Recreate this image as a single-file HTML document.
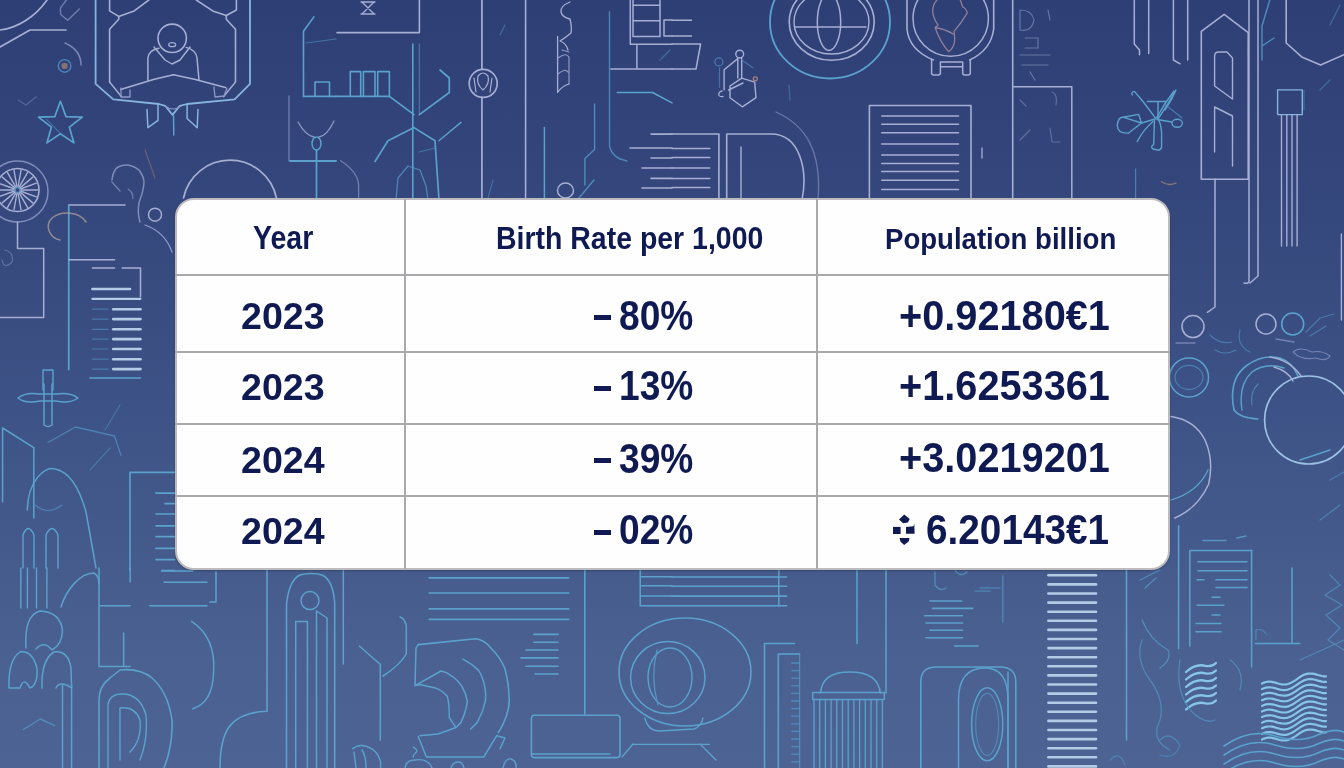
<!DOCTYPE html>
<html><head><meta charset="utf-8">
<style>
html,body{margin:0;padding:0;}
body{width:1344px;height:768px;overflow:hidden;position:relative;
background:linear-gradient(180deg,#2e3f76 0%,#33457a 21%,#3d5286 53%,#4a6090 84%,#4c6394 100%);
font-family:"Liberation Sans",sans-serif;-webkit-font-smoothing:antialiased;}
#bg{position:absolute;left:0;top:0;width:1344px;height:768px;filter:blur(0.4px);}
#tbl{position:absolute;left:175px;top:198px;width:991px;height:368px;border:2px solid #bcbcbe;border-radius:19px;background:#fefefe;box-shadow:0 1px 2px rgba(0,0,0,0.25);}
.hl{position:absolute;left:175px;width:995px;height:2px;background:#a9a9ab;}
.vl{position:absolute;top:199px;height:370px;width:2px;background:#a9a9ab;}
.t{position:absolute;white-space:nowrap;color:#101a52;font-weight:bold;line-height:1;transform-origin:0 0;}
.a{left:240.5px;font-size:37.6px;transform:scaleX(1.0001);}
.b{left:619.2px;font-size:41.9px;transform:scaleX(0.887);}
.m{position:absolute;left:594px;width:17px;height:5px;background:#101a52;}
.c{left:899.1px;font-size:41.9px;transform:scaleX(0.948);}
</style></head><body>
<svg id="bg" width="1344" height="768" viewBox="0 0 1344 768" fill="none" stroke-linecap="round" stroke-linejoin="round">
<path d="M0,30 C18,28 36,16 47,0" stroke="#a6afd3" stroke-width="1.7"/>
<path d="M0,47 L30,30 L66,30" stroke="#a6afd3" stroke-width="1.7"/>
<path d="M66.4,0 L60.5,7.8 L60.5,14.3 L67.7,20.2 L79.4,9.1" stroke="#8d99c6" stroke-width="1.4" opacity="0.7"/>
<ellipse cx="64.6" cy="65.9" rx="6.3" ry="6.3" stroke="#5296c4" stroke-width="1.4" opacity="0.8"/>
<circle cx="64.6" cy="65.9" r="3.2" fill="#9a7a70" opacity="0.8"/>
<path d="M65,43 Q81,50 81,65" stroke="#8d99c6" stroke-width="1.5" opacity="0.8"/>
<path d="M18,100 L26,105 L36,97" stroke="#8d99c6" stroke-width="1.4" opacity="0.4"/>
<path d="M60.4,101.3 L66.0,116.6 L82.3,117.2 L69.4,127.2 L73.9,142.9 L60.4,133.8 L46.9,142.9 L51.4,127.2 L38.5,117.2 L54.8,116.6 Z" stroke="#5aa2cc" stroke-width="1.7"/>
<path d="M46.4,119.3 L63.4,136.3" stroke="#5296c4" stroke-width="1.2" opacity="0.6"/>
<path d="M95.6,0 L95.6,83.9 L113.3,99.4 L158.9,104 L165.2,105.8 L172.5,114.9 L179.8,105.8 L187.1,104 L234.6,99.4 L250,83.9 L250,0" stroke="#86b4de" stroke-width="1.8"/>
<path d="M109.6,82 L109.6,29.2 L118.7,19.2 L118.7,16.4 L109.6,10.9 L109.6,0" stroke="#a6afd3" stroke-width="1.6"/>
<path d="M118.7,16.4 L134.2,10.9 L148.8,0" stroke="#a6afd3" stroke-width="1.6"/>
<path d="M235.5,82 L235.5,29.2 L226.3,19.2 L226.3,15.5 L236.4,10 L236.4,0" stroke="#a6afd3" stroke-width="1.6"/>
<path d="M226.3,15.5 L212.7,10.9 L196.3,0" stroke="#a6afd3" stroke-width="1.6"/>
<path d="M109.6,82 L121.5,96.7" stroke="#a6afd3" stroke-width="1.4"/>
<path d="M235.5,82 L223.5,96.7" stroke="#a6afd3" stroke-width="1.4"/>
<ellipse cx="172.2" cy="38.3" rx="14.2" ry="14.2" stroke="#a6afd3" stroke-width="1.6"/>
<ellipse cx="172.2" cy="44.7" rx="3.5" ry="2" stroke="#a6afd3" stroke-width="1.2"/>
<path d="M158.9,48.3 Q149,50 147.9,58 L147.9,80.2" stroke="#a6afd3" stroke-width="1.5"/>
<path d="M186.2,47.4 Q196,50 197,58 L199,80.2" stroke="#a6afd3" stroke-width="1.5"/>
<path d="M154,47 L165,60 L172,64 L180,60 L190,47" stroke="#a6afd3" stroke-width="1.4"/>
<path d="M120.6,89.4 L154.3,79.3 L173.5,74.8 L194.4,79.3 L225.4,87.5" stroke="#a6afd3" stroke-width="1.6"/>
<path d="M121,88 L121,97 L130,97 L130,90" stroke="#8d99c6" stroke-width="1.3"/>
<path d="M214,87 L215,97 L224,96 L227,88" stroke="#8d99c6" stroke-width="1.3"/>
<path d="M147,109.4 L147.9,127.7 L158,120.4 L158,104.9" stroke="#86b4de" stroke-width="1.5"/>
<path d="M198,109.4 L197.2,127.7 L187.1,118.5 L187.1,104.9" stroke="#86b4de" stroke-width="1.5"/>
<path d="M173.5,115 L173.8,135" stroke="#5aa2cc" stroke-width="1.5"/>
<path d="M165,106 Q173,112 181,106" stroke="#8d99c6" stroke-width="1.2"/>
<path d="M303.5,96.4 L303.5,31.3 L313.9,16.9" stroke="#5aa2cc" stroke-width="1.6"/>
<path d="M306,43 L336,39" stroke="#5296c4" stroke-width="1.2" opacity="0.6"/>
<path d="M303.5,96.4 L336,96.4" stroke="#5aa2cc" stroke-width="1.6"/>
<path d="M315,96.4 L315,82 L329.5,82 L329.5,96.4" stroke="#5aa2cc" stroke-width="1.6"/>
<path d="M289,96 L289,161" stroke="#8d99c6" stroke-width="1.3" opacity="0.7"/>
<path d="M290,161 L336,161" stroke="#5aa2cc" stroke-width="1.8"/>
<ellipse cx="316.5" cy="143.5" rx="4.5" ry="6.5" stroke="#5aa2cc" stroke-width="1.5"/>
<path d="M316.5,150 L316.5,198" stroke="#5aa2cc" stroke-width="1.7"/>
<path d="M298,122 Q306,136 314,137 M319,137 Q327,136 334,121" stroke="#8d99c6" stroke-width="1.3"/>
<path d="M183.5,198 A47.5,47.5 0 0 1 276.5,198" stroke="#a6afd3" stroke-width="1.7"/>
<path d="M340.7,160.7 Q358,172 358.6,185 V200" stroke="#8d99c6" stroke-width="1.3" opacity="0.7"/>
<ellipse cx="17.5" cy="191.5" rx="30.5" ry="30.5" stroke="#8d99c6" stroke-width="1.5" opacity="0.85"/>
<ellipse cx="17.5" cy="190" rx="21.5" ry="21.5" stroke="#a6afd3" stroke-width="1.6"/>
<path d="M20.5,190.0 L37.5,190.0" stroke="#a6afd3" stroke-width="1.4"/>
<path d="M20.3,191.0 L36.3,196.8" stroke="#a6afd3" stroke-width="1.4"/>
<path d="M19.8,191.9 L32.8,202.9" stroke="#a6afd3" stroke-width="1.4"/>
<path d="M19.0,192.6 L27.5,207.3" stroke="#a6afd3" stroke-width="1.4"/>
<path d="M18.0,193.0 L21.0,209.7" stroke="#a6afd3" stroke-width="1.4"/>
<path d="M17.0,193.0 L14.0,209.7" stroke="#a6afd3" stroke-width="1.4"/>
<path d="M16.0,192.6 L7.5,207.3" stroke="#a6afd3" stroke-width="1.4"/>
<path d="M15.2,191.9 L2.2,202.9" stroke="#a6afd3" stroke-width="1.4"/>
<path d="M14.7,191.0 L-1.3,196.8" stroke="#a6afd3" stroke-width="1.4"/>
<path d="M14.5,190.0 L-2.5,190.0" stroke="#a6afd3" stroke-width="1.4"/>
<path d="M14.7,189.0 L-1.3,183.2" stroke="#a6afd3" stroke-width="1.4"/>
<path d="M15.2,188.1 L2.2,177.1" stroke="#a6afd3" stroke-width="1.4"/>
<path d="M16.0,187.4 L7.5,172.7" stroke="#a6afd3" stroke-width="1.4"/>
<path d="M17.0,187.0 L14.0,170.3" stroke="#a6afd3" stroke-width="1.4"/>
<path d="M18.0,187.0 L21.0,170.3" stroke="#a6afd3" stroke-width="1.4"/>
<path d="M19.0,187.4 L27.5,172.7" stroke="#a6afd3" stroke-width="1.4"/>
<path d="M19.8,188.1 L32.8,177.1" stroke="#a6afd3" stroke-width="1.4"/>
<path d="M20.3,189.0 L36.3,183.2" stroke="#a6afd3" stroke-width="1.4"/>
<ellipse cx="17.5" cy="190" rx="2.5" ry="2.5" stroke="#5296c4" stroke-width="1.3" opacity="0.8"/>
<path d="M112,180 Q113,170 118,167 Q128,162 139,170 Q145,178 143.8,185 Q143,193 139.2,202 Q137,212 140,222" stroke="#8d99c6" stroke-width="1.5" opacity="0.85"/>
<path d="M111.9,182 L120.1,191 M128.3,189.2 Q133,192 132.8,198.3" stroke="#8d99c6" stroke-width="1.3" opacity="0.7"/>
<path d="M68.75,205 L125,205" stroke="#a6afd3" stroke-width="1.5"/>
<path d="M68.75,205.6 L68.75,369.6" stroke="#5aa2cc" stroke-width="1.7"/>
<path d="M145,150 L155,178" stroke="#a07a70" stroke-width="1.3" opacity="0.5"/>
<path d="M337,32.6 L419.4,32.6 L419.4,0" stroke="#a6afd3" stroke-width="1.6"/>
<path d="M362,2 L374,14 M374,2 L362,14 M361,14 L375,14 M361,2 L375,2" stroke="#a6afd3" stroke-width="1.4"/>
<path d="M412.8,44 L412.8,200" stroke="#5aa2cc" stroke-width="1.6"/>
<path d="M419.4,44 L419.4,115" stroke="#5296c4" stroke-width="1.3" opacity="0.6"/>
<path d="M350.3,96.4 V71.6 H360.7 V96.4 M363.4,96.4 V71.6 H375 V96.4 M377.7,96.4 V71.6 H389.4 V96.4" stroke="#5aa2cc" stroke-width="1.6"/>
<path d="M336,96.4 H389.4 L414,114.6" stroke="#5aa2cc" stroke-width="1.7"/>
<path d="M419.4,114.6 L449.3,92.5 L449.3,78 L440,70" stroke="#5aa2cc" stroke-width="1.7"/>
<path d="M375,161.5 L388,140.7 L414,127.6 L435,140.7 L439,200" stroke="#5aa2cc" stroke-width="1.7"/>
<path d="M396,200 L398,178 L408,166 L420,170 L426,186 L428,200" stroke="#5296c4" stroke-width="1.3" opacity="0.8"/>
<path d="M438.9,140.7 L461,122.4" stroke="#5aa2cc" stroke-width="1.4"/>
<path d="M419,152 L435,148" stroke="#5296c4" stroke-width="1.2" opacity="0.6"/>
<path d="M481.9,0 L481.9,69 M481.9,97.5 L481.9,200" stroke="#a6afd3" stroke-width="1.7"/>
<ellipse cx="483.2" cy="83.4" rx="14" ry="14" stroke="#a6afd3" stroke-width="1.7"/>
<path d="M478,76 Q483,70 488,76 Q490,84 483,90 Q476,84 478,76 M474,78 L476,92 M492,78 L490,92" stroke="#a6afd3" stroke-width="1.2"/>
<path d="M525.6,0 L525.6,200" stroke="#a6afd3" stroke-width="1.6"/>
<path d="M557.6,36.5 V92.4 Q562,86 569,84" stroke="#a6afd3" stroke-width="1.3"/>
<path d="M570,2 Q560,6 561,12 Q562,17 570,19 Q572,27 571,33 Q565,38 560,41 Q566,43 568,50" stroke="#a6afd3" stroke-width="1.3"/>
<path d="M558,58 Q566,52 569,57 V84 M558,74 Q565,68 568,72 M562,50 L569,52" stroke="#a6afd3" stroke-width="1.2" opacity="0.8"/>
<path d="M544.4,127.6 L544.4,200" stroke="#5aa2cc" stroke-width="1.5"/>
<path d="M630.3,0 V44.3 H672 M633,5.2 H660 M633,20.8 H660 M633,36.5 H660 M633,0 V36.5 M660,0 V36.5 M636.9,44.3 V69 M610.8,69 H672 M664,20 H672 M664,36 H672 M664,20 V36" stroke="#a6afd3" stroke-width="1.5"/>
<path d="M609.5,11.7 L609.5,146 Q612,158 627,161" stroke="#5296c4" stroke-width="1.4" opacity="0.8"/>
<path d="M617.3,92.5 H652.5 L672,102.9" stroke="#5aa2cc" stroke-width="1.6"/>
<path d="M651,134.1 H672" stroke="#a6afd3" stroke-width="1.6"/>
<path d="M630,148 H672" stroke="#a6afd3" stroke-width="1.6"/>
<path d="M651,158 H672" stroke="#a6afd3" stroke-width="1.6"/>
<path d="M642,168 H672" stroke="#a6afd3" stroke-width="1.6"/>
<path d="M651,178.4 H672" stroke="#a6afd3" stroke-width="1.6"/>
<path d="M642,188 H672" stroke="#a6afd3" stroke-width="1.6"/>
<ellipse cx="565.5" cy="190.5" rx="8" ry="7.5" stroke="#a6afd3" stroke-width="1.5"/>
<path d="M594.6,104 V149.5 L584.9,158.5 V185 M579,198 L594,180" stroke="#5296c4" stroke-width="1.4" opacity="0.85"/>
<path d="M500,35 L505,25" stroke="#5296c4" stroke-width="1.2" opacity="0.5"/>
<path d="M493,180 L488,198" stroke="#5296c4" stroke-width="1.2" opacity="0.5"/>
<ellipse cx="830" cy="22" rx="60" ry="56.5" stroke="#5aa2cc" stroke-width="1.8"/>
<ellipse cx="831.7" cy="22" rx="42.5" ry="38.3" stroke="#a6afd3" stroke-width="1.6"/>
<ellipse cx="831.5" cy="22" rx="37.5" ry="32" stroke="#a6afd3" stroke-width="1.4"/>
<ellipse cx="829" cy="22" rx="11.7" ry="28.4" stroke="#a6afd3" stroke-width="1.5"/>
<path d="M795,27 H866" stroke="#a6afd3" stroke-width="1.5"/>
<path d="M907,0 V29 Q909,50 933.4,60 M993.7,0 V29 Q991,50 969.7,60" stroke="#a6afd3" stroke-width="1.6"/>
<ellipse cx="950.7" cy="18.6" rx="37.7" ry="37.7" stroke="#a6afd3" stroke-width="1.5"/>
<path d="M931.6,59.8 V73 Q931.6,75 934,75 H938 Q940.4,75 940.4,73 V62.1 H962.7 V73 Q962.7,75 965,75 H968 Q970.3,75 970.3,73 V59.8 M940.4,66.8 H962.7" stroke="#a6afd3" stroke-width="1.5"/>
<path d="M936.9,0 Q928,10 938,25.2 L935.1,27.5 Q940,42 948.6,51.6 Q957,46 953.9,31.6 Q962,22 967.3,12.9 Q966,8 962.7,7 L960.3,0 M935.1,27.5 Q945,29 953.3,34" stroke="#a08aa0" stroke-width="1.3" opacity="0.85"/>
<path d="M737.8,57.5 V78 M741.7,57.5 V78 M737.8,58.6 L724.1,69.7 V89.9 M741.7,78.2 L730,86 V97.7 L742.3,106.8 L756,97.7 L754.7,82.1 L741.7,78.2 M728.6,90 L743,83" stroke="#a6afd3" stroke-width="1.4"/>
<ellipse cx="739.7" cy="54.1" rx="3.9" ry="3.9" stroke="#a6afd3" stroke-width="1.4"/>
<path d="M722,91 Q718,92 719,95.5 Q720,97 723,96.5" stroke="#a6afd3" stroke-width="1.3"/>
<ellipse cx="755.3" cy="78.8" rx="2" ry="2" stroke="#b08080" stroke-width="1.2"/>
<ellipse cx="718.9" cy="61.9" rx="4" ry="4" stroke="#5296c4" stroke-width="1.2" opacity="0.7"/>
<path d="M719.5,67.8 V87.3 M741.7,60 L753,67.7" stroke="#5296c4" stroke-width="1.2" opacity="0.6"/>
<path d="M726.7,200 V134 H771 C800,134 808,170 802,200" stroke="#a6afd3" stroke-width="1.6"/>
<path d="M741,147 V200" stroke="#a6afd3" stroke-width="1.4"/>
<path d="M776,112 C805,125 822,150 818,200" stroke="#8d99c6" stroke-width="1.3" opacity="0.6"/>
<path d="M718.9,134 V200 M672,134 H718.9" stroke="#a6afd3" stroke-width="1.6"/>
<path d="M672,148.5 H709.8" stroke="#a6afd3" stroke-width="1.5"/>
<path d="M672,157.6 H709.8" stroke="#a6afd3" stroke-width="1.5"/>
<path d="M672,168 H709.8" stroke="#a6afd3" stroke-width="1.5"/>
<path d="M672,178.4 H709.8" stroke="#a6afd3" stroke-width="1.5"/>
<path d="M672,187.5 H709.8" stroke="#a6afd3" stroke-width="1.5"/>
<path d="M672,20.3 H691.5 M672,36 H691.5 M672,44 H700.6 L696,69 H672" stroke="#a6afd3" stroke-width="1.5"/>
<path d="M869.4,200 V105.5 H971 V200" stroke="#a6afd3" stroke-width="1.6"/>
<path d="M881.7,116 H958.5" stroke="#a6afd3" stroke-width="1.5"/>
<path d="M881.7,124.3 H958.5" stroke="#a6afd3" stroke-width="1.5"/>
<path d="M881.7,132.8 H958.5" stroke="#a6afd3" stroke-width="1.5"/>
<path d="M881.7,144 H958.5" stroke="#a6afd3" stroke-width="1.5"/>
<path d="M881.7,155 H958.5" stroke="#a6afd3" stroke-width="1.5"/>
<path d="M881.7,163.6 H958.5" stroke="#a6afd3" stroke-width="1.5"/>
<path d="M881.7,171.4 H958.5" stroke="#a6afd3" stroke-width="1.5"/>
<path d="M881.7,180.3 H958.5" stroke="#a6afd3" stroke-width="1.5"/>
<path d="M881.7,189.4 H958.5" stroke="#a6afd3" stroke-width="1.5"/>
<path d="M982,148 V158" stroke="#a6afd3" stroke-width="1.3"/>
<path d="M790,100 L789,85 M660,60 L670,50" stroke="#5296c4" stroke-width="1.2" opacity="0.5"/>
<path d="M1012.7,0 V200" stroke="#a6afd3" stroke-width="1.6"/>
<path d="M1012.7,86.7 H1071.8 V200" stroke="#a6afd3" stroke-width="1.5"/>
<path d="M1020,10 V30 Q1032,32 1034,20 Q1032,10 1020,10 M1025,38 H1038 V48 H1025 M1020,55 H1050 M1022,65 H1048 M1030,72 L1035,80 M1048,10 L1050,20" stroke="#8d99c6" stroke-width="1.2" opacity="0.6"/>
<path d="M1020,100 L1026,106 M1052,92 Q1058,94 1056,105 M1020,140 L1030,130 M1050,128 L1052,142 L1060,142" stroke="#8d99c6" stroke-width="1.2" opacity="0.5"/>
<path d="M1134.3,0 V44 L1139.5,50 V54.7 M1148.7,0 V53.4 M1173.4,0 V60 L1180,63.8 M1187.7,0 V60" stroke="#a6afd3" stroke-width="1.5"/>
<path d="M1155.9,118.7 L1143,101.5 L1134.4,91.4 Q1131,92 1132.2,95" stroke="#5aa2cc" stroke-width="1.4"/>
<path d="M1156.5,118 Q1164,104 1174,91 M1158,119 Q1168,104 1176,90 Q1172,100 1165,110" stroke="#5aa2cc" stroke-width="1.4"/>
<path d="M1147.3,101.5 H1165.9 M1158,101.5 V119" stroke="#5aa2cc" stroke-width="1.4"/>
<path d="M1117.2,125.8 Q1118,117 1122.9,117.2 L1138.7,114.4 L1141.5,123 L1128.7,133 Q1118,134 1117.2,125.8 Z M1141.5,123 L1155,119 M1122.9,117.2 L1141.5,123" stroke="#5aa2cc" stroke-width="1.4"/>
<ellipse cx="1177.2" cy="123.3" rx="5.2" ry="4" stroke="#5aa2cc" stroke-width="1.4"/>
<path d="M1157,119.5 L1172,122" stroke="#5aa2cc" stroke-width="1.3"/>
<path d="M1154.4,120 L1153.7,144.4 Q1150,147 1153,149 L1159,150.2 Q1162,149 1161.6,146 L1161.6,133 Q1161,124 1158.7,120" stroke="#5aa2cc" stroke-width="1.4"/>
<path d="M1153,121.5 Q1143,130 1137.2,141.6" stroke="#5aa2cc" stroke-width="1.3"/>
<path d="M1164,104 Q1175,112 1182,118" stroke="#5296c4" stroke-width="1.2" opacity="0.7"/>
<path d="M1161.6,181.7 Q1168,186.5 1175.9,183.1" stroke="#a88a78" stroke-width="1.4" opacity="0.7"/>
<path d="M1201.3,179.2 V31.3 L1224.2,14.3 L1248.2,32.6 V179.2 Z" stroke="#a6afd3" stroke-width="1.6"/>
<path d="M1214.6,56 Q1214.6,52 1219,52 L1227,52 L1232.5,58 L1232.5,99 L1214.6,86 Z" stroke="#a6afd3" stroke-width="1.4"/>
<path d="M1214.6,107 L1232.5,116 L1232.5,166 M1214.6,107 L1214.6,152" stroke="#a6afd3" stroke-width="1.4"/>
<path d="M1215,179 V307 L1207.4,312.3" stroke="#a6afd3" stroke-width="1.5"/>
<path d="M1249,0 V281 Q1249,284 1244,283 M1258,0 V276 L1250,283" stroke="#a6afd3" stroke-width="1.5"/>
<path d="M1269.8,0 L1262,26 V60 M1262,46 L1274,38" stroke="#5296c4" stroke-width="1.4" opacity="0.9"/>
<path d="M1286.2,0 V43 L1302.3,57.3 L1320.6,65.1 L1344,54.7" stroke="#a6afd3" stroke-width="1.6"/>
<path d="M1277.6,89.9 H1302.3 V114.6 H1277.6 Z" stroke="#86b4de" stroke-width="1.4"/>
<path d="M1281.5,114.6 V246" stroke="#a6afd3" stroke-width="1.4"/>
<path d="M1286.8,114.6 V246" stroke="#a6afd3" stroke-width="1.4"/>
<path d="M1292,114.6 V246" stroke="#a6afd3" stroke-width="1.4"/>
<path d="M1297.1,114.6 V246" stroke="#a6afd3" stroke-width="1.4"/>
<path d="M1135.6,169 V200" stroke="#5296c4" stroke-width="1.3" opacity="0.7"/>
<path d="M1341.4,234 V320" stroke="#a6afd3" stroke-width="1.4"/>
<path d="M1304,90 V110 M1330,25 L1340,5 M1320,90 L1330,80" stroke="#5296c4" stroke-width="1.2" opacity="0.5"/>
<path d="M17.5,222 V248.6 H43.7 V317.5 H0" stroke="#a6afd3" stroke-width="1.5"/>
<path d="M69,259.8 H114.5" stroke="#a6afd3" stroke-width="1.5"/>
<path d="M92.4,268 H114.5 M122.3,268 H140.5 V296.7" stroke="#a6afd3" stroke-width="1.5"/>
<path d="M92.4,289 H130" stroke="#b4cbe6" stroke-width="2.6"/>
<path d="M92.4,298.8 H140.5" stroke="#b4cbe6" stroke-width="2.2"/>
<path d="M113.2,309.2 H140.5" stroke="#b4cbe6" stroke-width="2.6"/>
<path d="M92.4,309.2 H108" stroke="#5296c4" stroke-width="1.2" opacity="0.6"/>
<path d="M113.2,319.1 H140.5" stroke="#b4cbe6" stroke-width="2.6"/>
<path d="M92.4,319.1 H108" stroke="#5296c4" stroke-width="1.2" opacity="0.6"/>
<path d="M113.2,329.3 H140.5" stroke="#b4cbe6" stroke-width="2.6"/>
<path d="M92.4,329.3 H108" stroke="#5296c4" stroke-width="1.2" opacity="0.6"/>
<path d="M113.2,339.1 H140.5" stroke="#b4cbe6" stroke-width="2.6"/>
<path d="M92.4,339.1 H108" stroke="#5296c4" stroke-width="1.2" opacity="0.6"/>
<path d="M113.2,349 H140.5" stroke="#b4cbe6" stroke-width="2.6"/>
<path d="M92.4,349 H108" stroke="#5296c4" stroke-width="1.2" opacity="0.6"/>
<path d="M113.2,359.2 H140.5" stroke="#b4cbe6" stroke-width="2.6"/>
<path d="M92.4,359.2 H108" stroke="#5296c4" stroke-width="1.2" opacity="0.6"/>
<path d="M113.2,369.1 H140.5" stroke="#b4cbe6" stroke-width="2.6"/>
<path d="M92.4,369.1 H108" stroke="#5296c4" stroke-width="1.2" opacity="0.6"/>
<path d="M89.8,378 H140.5" stroke="#5aa2cc" stroke-width="1.5"/>
<path d="M86,222 C80,212 62,210 52,218 C44,226 50,238 60,240" stroke="#a89a98" stroke-width="1.5" opacity="0.8"/>
<ellipse cx="155" cy="214.7" rx="6.5" ry="6.5" stroke="#a6afd3" stroke-width="1.4"/>
<path d="M145,225 Q165,232 172,252" stroke="#8d99c6" stroke-width="1.3"/>
<path d="M5,250 Q14,252 12,262 Q4,270 2,260" stroke="#8d99c6" stroke-width="1.2" opacity="0.5"/>
<path d="M43,390 V370 H53 V390" stroke="#5aa2cc" stroke-width="1.4"/>
<path d="M18,398 Q25,392 40,394 L56,394 Q70,392 78,398 Q70,404 56,401 L40,401 Q25,404 18,398 M44,384 V425 Q48,428 52,425 V384" stroke="#5aa2cc" stroke-width="1.5"/>
<path d="M2.6,428 V502 M2.6,428 L33.8,447.7 V518" stroke="#5aa2cc" stroke-width="1.5"/>
<path d="M48,442.5 L75.5,427 L114.5,436 L121,455.5" stroke="#5296c4" stroke-width="1.3" opacity="0.7"/>
<path d="M130,570 V472.4 H174.4" stroke="#5aa2cc" stroke-width="1.6"/>
<path d="M156,493.2 H174.4" stroke="#5aa2cc" stroke-width="1.7"/>
<path d="M165,503.6 H174.4" stroke="#5aa2cc" stroke-width="1.7"/>
<path d="M156,514 H174.4" stroke="#5aa2cc" stroke-width="1.7"/>
<path d="M156,525.8 H174.4" stroke="#5aa2cc" stroke-width="1.7"/>
<path d="M156,536.7 H174.4" stroke="#5aa2cc" stroke-width="1.7"/>
<path d="M156,548.4 H174.4" stroke="#5aa2cc" stroke-width="1.7"/>
<path d="M156,559.6 H174.4" stroke="#5aa2cc" stroke-width="1.7"/>
<path d="M162,570.5 H174.4" stroke="#5aa2cc" stroke-width="1.7"/>
<path d="M27.3,510 C28,480 45,466 55,469 C70,472 80,490 86,512 L96,568" stroke="#5aa2cc" stroke-width="1.5"/>
<path d="M23,568 V535 Q28,522 34,535 V568 M46,568 V535 Q52,522 58,535 V568" stroke="#5aa2cc" stroke-width="1.4"/>
<path d="M35,505 Q48,516 62,505" stroke="#5296c4" stroke-width="1.2" opacity="0.7"/>
<path d="M105,430 L120,405 M90,470 L110,448" stroke="#5296c4" stroke-width="1.2" opacity="0.5"/>
<path d="M20.8,568 V608" stroke="#5aa2cc" stroke-width="1.4"/>
<path d="M27.4,568 V608" stroke="#5aa2cc" stroke-width="1.4"/>
<path d="M36.5,568 V608" stroke="#5aa2cc" stroke-width="1.4"/>
<path d="M46.9,568 V608" stroke="#5aa2cc" stroke-width="1.4"/>
<path d="M9,688 Q8,660 20,652 Q32,650 37,668 Q38,685 30,688 Q24,676 20,688 Z" stroke="#5aa2cc" stroke-width="1.5"/>
<path d="M42,688 Q41,660 54,652 Q68,650 71,668 L71.6,688 Q60,680 56,688" stroke="#5aa2cc" stroke-width="1.5"/>
<path d="M26,648 Q24,615 40,611 Q60,612 62.5,630 Q62,645 52,650 Q44,640 36,649" stroke="#5aa2cc" stroke-width="1.5"/>
<path d="M62.5,685 V768 M71.6,685 V768" stroke="#5aa2cc" stroke-width="1.5"/>
<path d="M61,607 C66,590 80,573 93.8,573 C98,575 99,580 99,583.6" stroke="#5aa2cc" stroke-width="1.5"/>
<path d="M99,568 V666.5 H130 M123.7,633 V666.5 M99,605.8 H130 M149.8,605.8 H207 M216,572 V602 H210 M161.5,571 H192.8 M164,582.3 H207 M130.2,568 V582" stroke="#5aa2cc" stroke-width="1.5"/>
<path d="M99,768 V700 Q99,686 110,678 L120,670 Q140,668 152,678 Q168,692 172,720 Q173,745 164,768" stroke="#5aa2cc" stroke-width="1.6"/>
<path d="M108,768 V704 Q110,694 122,694 Q140,694 146,715 Q148,740 140,760" stroke="#5aa2cc" stroke-width="1.4"/>
<path d="M120,708 Q135,706 140,720 Q142,740 130,752 M120,708 V760" stroke="#5aa2cc" stroke-width="1.4"/>
<path d="M23.4,729.5 L40.4,719 L54.7,725.6" stroke="#5296c4" stroke-width="1.4" opacity="0.8"/>
<path d="M191.5,621.4 C208,632 215,650 213.6,672 C213,695 205,705 192.8,708.7" stroke="#5aa2cc" stroke-width="1.5"/>
<path d="M267,570.6 V711.3 Q240,712 229,727 Q220,740 220,768" stroke="#5aa2cc" stroke-width="1.6"/>
<path d="M286.5,768 V604.5 Q289,580 300,575 Q312,572 322,575 Q333,580 334.7,603 V768" stroke="#5aa2cc" stroke-width="1.6"/>
<ellipse cx="310" cy="600.6" rx="9" ry="9" stroke="#5aa2cc" stroke-width="1.5"/>
<path d="M295.7,768 V621.4 H307.4 V768 M316.5,611 V768 M316.5,611 L327,618 V768" stroke="#5aa2cc" stroke-width="1.5"/>
<path d="M343.3,568 V664" stroke="#5aa2cc" stroke-width="1.5"/>
<path d="M429.3,577.9 H568.6" stroke="#5aa2cc" stroke-width="1.7"/>
<path d="M429.3,593 H568.6" stroke="#5aa2cc" stroke-width="1.7"/>
<path d="M429.3,608.9 H568.6" stroke="#5aa2cc" stroke-width="1.7"/>
<path d="M429.3,619.3 H568.6" stroke="#5aa2cc" stroke-width="1.7"/>
<path d="M584.8,570.6 V713.9" stroke="#5aa2cc" stroke-width="1.6"/>
<rect x="531.4" y="715.2" width="88.6" height="42.4" rx="3" stroke="#5aa2cc" stroke-width="1.6"/>
<path d="M531.4,754 H610" stroke="#5aa2cc" stroke-width="1.4"/>
<path d="M534,634.4 H558" stroke="#5aa2cc" stroke-width="1.6"/>
<path d="M534,642.2 H558" stroke="#5aa2cc" stroke-width="1.6"/>
<path d="M526,650 H558" stroke="#5aa2cc" stroke-width="1.6"/>
<path d="M521,657.9 H558" stroke="#5aa2cc" stroke-width="1.6"/>
<path d="M526,666.2 H558" stroke="#5aa2cc" stroke-width="1.6"/>
<path d="M535,674 H558" stroke="#5aa2cc" stroke-width="1.6"/>
<path d="M640.2,570 V605.8 H672 M640.2,576.8 H672 M640.2,585.8 H672 M640.2,596 H672" stroke="#5aa2cc" stroke-width="1.5"/>
<path d="M418.2,644.6 L475.6,638.7 Q485,640 491.1,648.2 Q500,657 504.8,668.3 Q509,684 509.3,700 Q509,716 498.4,732.4" stroke="#5aa2cc" stroke-width="1.6"/>
<path d="M418.2,644.6 L416,648.2 L415,685.6 L421,684.7" stroke="#5aa2cc" stroke-width="1.5"/>
<path d="M415,685.6 L441,671 Q447,672 451,675.6 Q458,680 462,686.5 Q466,693 467.3,701.3 Q466,712 460.8,722.6 L455.9,727.5" stroke="#5aa2cc" stroke-width="1.5"/>
<path d="M421,684.7 L436.4,688.3 Q443,691 447.4,696.5 Q449.5,705 449.3,717.6 L455.9,727.5 L437.9,734 L419.9,735.7" stroke="#5aa2cc" stroke-width="1.4"/>
<path d="M462.9,659.2 Q472,664 478.4,670.1 Q483,677 484.7,686.5 Q486.5,694 485.3,701.3 Q483,712 477.1,722.6 L470.6,729" stroke="#5aa2cc" stroke-width="1.5"/>
<path d="M418.2,736.5 L426.4,757 L483.7,757 L496.8,735.7 L505,738 L500,748.8" stroke="#5aa2cc" stroke-width="1.5"/>
<path d="M413.3,747.1 Q418,750 416.6,752 Q413,755 413.3,757" stroke="#5aa2cc" stroke-width="1.3"/>
<path d="M405,768 Q406,760 415,760 Q428,758 432,768 M451,768 Q453,762 458,762 Q463,762 464,768 M503,768 Q505,758 511,759 Q517,761 516,768" stroke="#5aa2cc" stroke-width="1.4"/>
<path d="M352.7,748.8 Q357,745 362.6,745.5 Q370,747 374,750.4 Q379,755 380.6,761.8 V768 M354,752 L356,768 M362,750 Q366,756 366,768" stroke="#5aa2cc" stroke-width="1.4"/>
<path d="M359.4,646 Q375,660 380.3,664.4 V740 M383,676 Q400,665 406.3,654 V625.3 Q404,618 400,617" stroke="#5aa2cc" stroke-width="1.5"/>
<ellipse cx="685" cy="672" rx="66" ry="54" stroke="#5aa2cc" stroke-width="1.6"/>
<ellipse cx="667.8" cy="677.6" rx="37.2" ry="36" stroke="#5aa2cc" stroke-width="1.5"/>
<ellipse cx="670" cy="677.5" rx="22" ry="29.5" stroke="#5aa2cc" stroke-width="1.4"/>
<path d="M657,650 Q650,678 658,705" stroke="#5296c4" stroke-width="1.3"/>
<path d="M644.8,718 Q648,731 660,731 L694,729 Q702,726 702.8,718" stroke="#5aa2cc" stroke-width="1.4"/>
<path d="M632.8,744.4 H709.4 M622,757 L633,744 M700,744 L716,760" stroke="#5aa2cc" stroke-width="1.4"/>
<path d="M672,577 H786.6" stroke="#5aa2cc" stroke-width="1.6"/>
<path d="M672,586.2 H786.6" stroke="#5aa2cc" stroke-width="1.6"/>
<path d="M672,596.1 H786.6" stroke="#5aa2cc" stroke-width="1.6"/>
<path d="M672,605.8 H786.6" stroke="#5aa2cc" stroke-width="1.6"/>
<path d="M778.8,570.6 V605.8" stroke="#5aa2cc" stroke-width="1.5"/>
<path d="M764.5,768 V643.5 H794.4 M778.3,768 V654 H799.6" stroke="#5aa2cc" stroke-width="1.6"/>
<path d="M791.8,663.0 H799.6" stroke="#5296c4" stroke-width="1.3" opacity="0.8"/>
<path d="M791.8,670.6 H799.6" stroke="#5296c4" stroke-width="1.3" opacity="0.8"/>
<path d="M791.8,678.2 H799.6" stroke="#5296c4" stroke-width="1.3" opacity="0.8"/>
<path d="M791.8,685.8 H799.6" stroke="#5296c4" stroke-width="1.3" opacity="0.8"/>
<path d="M791.8,693.4 H799.6" stroke="#5296c4" stroke-width="1.3" opacity="0.8"/>
<path d="M791.8,701.0 H799.6" stroke="#5296c4" stroke-width="1.3" opacity="0.8"/>
<path d="M791.8,708.6 H799.6" stroke="#5296c4" stroke-width="1.3" opacity="0.8"/>
<path d="M791.8,716.2 H799.6" stroke="#5296c4" stroke-width="1.3" opacity="0.8"/>
<path d="M791.8,723.8 H799.6" stroke="#5296c4" stroke-width="1.3" opacity="0.8"/>
<path d="M791.8,731.4 H799.6" stroke="#5296c4" stroke-width="1.3" opacity="0.8"/>
<path d="M791.8,739.0 H799.6" stroke="#5296c4" stroke-width="1.3" opacity="0.8"/>
<path d="M791.8,746.6 H799.6" stroke="#5296c4" stroke-width="1.3" opacity="0.8"/>
<path d="M791.8,754.2 H799.6" stroke="#5296c4" stroke-width="1.3" opacity="0.8"/>
<path d="M791.8,761.8 H799.6" stroke="#5296c4" stroke-width="1.3" opacity="0.8"/>
<path d="M799.6,654 V768" stroke="#5296c4" stroke-width="1.3" opacity="0.8"/>
<path d="M857,570.6 V643.5 M886,570.6 V693" stroke="#5aa2cc" stroke-width="1.5"/>
<path d="M820.5,693 Q822,672 850,672 Q878,672 880.4,693" stroke="#5aa2cc" stroke-width="1.6"/>
<path d="M812.7,692.5 H884.3 V699.5 H812.7 Z" stroke="#5aa2cc" stroke-width="1.5"/>
<path d="M814.0,699.5 V768" stroke="#5aa2cc" stroke-width="1.3"/>
<path d="M819.7,699.5 V768" stroke="#5aa2cc" stroke-width="1.3"/>
<path d="M825.4,699.5 V768" stroke="#5aa2cc" stroke-width="1.3"/>
<path d="M831.1,699.5 V768" stroke="#5aa2cc" stroke-width="1.3"/>
<path d="M836.8,699.5 V768" stroke="#5aa2cc" stroke-width="1.3"/>
<path d="M842.5,699.5 V768" stroke="#5aa2cc" stroke-width="1.3"/>
<path d="M848.2,699.5 V768" stroke="#5aa2cc" stroke-width="1.3"/>
<path d="M853.9,699.5 V768" stroke="#5aa2cc" stroke-width="1.3"/>
<path d="M859.6,699.5 V768" stroke="#5aa2cc" stroke-width="1.3"/>
<path d="M865.3,699.5 V768" stroke="#5aa2cc" stroke-width="1.3"/>
<path d="M871.0,699.5 V768" stroke="#5aa2cc" stroke-width="1.3"/>
<path d="M876.7,699.5 V768" stroke="#5aa2cc" stroke-width="1.3"/>
<path d="M882.4,699.5 V768" stroke="#5aa2cc" stroke-width="1.3"/>
<path d="M920.8,768 V682 Q920.8,667 936,667 H1000 Q1015.8,667 1015.8,682 V768" stroke="#5aa2cc" stroke-width="1.6"/>
<path d="M958.5,768 V700 Q958.5,668 985,668 Q1008,668 1008,700 V768" stroke="#5aa2cc" stroke-width="1.5"/>
<ellipse cx="987.2" cy="724.3" rx="15.6" ry="36.5" stroke="#5aa2cc" stroke-width="1.5"/>
<ellipse cx="987.2" cy="724.3" rx="11.5" ry="31" stroke="#5296c4" stroke-width="1.2" opacity="0.7"/>
<path d="M929.9,601 H961.8" stroke="#5aa2cc" stroke-width="1.6"/>
<path d="M932.5,608.4 H972.7" stroke="#5aa2cc" stroke-width="1.6"/>
<path d="M924.7,615.7 H962.5" stroke="#5aa2cc" stroke-width="1.6"/>
<path d="M926,623 H962.5" stroke="#5aa2cc" stroke-width="1.6"/>
<path d="M929.9,630.3 H962.5" stroke="#5aa2cc" stroke-width="1.6"/>
<path d="M926,637.8 H962.5" stroke="#5aa2cc" stroke-width="1.6"/>
<path d="M954.6,646 H978" stroke="#5aa2cc" stroke-width="1.6"/>
<path d="M1002.8,576 V622 M935,572 V585 Q940,592 946,588 M955,570 Q960,578 967,572" stroke="#5296c4" stroke-width="1.3" opacity="0.8"/>
<path d="M980,588 H1000 M975,591 H990" stroke="#5296c4" stroke-width="1.3" opacity="0.6"/>
<path d="M1048.4,575.3 H1096" stroke="#b4cbe6" stroke-width="2.6"/>
<path d="M1048.4,584.4 H1096" stroke="#b4cbe6" stroke-width="2.6"/>
<path d="M1048.4,593.5 H1096" stroke="#b4cbe6" stroke-width="2.6"/>
<path d="M1048.4,602.6 H1096" stroke="#b4cbe6" stroke-width="2.6"/>
<path d="M1048.4,611.7 H1096" stroke="#b4cbe6" stroke-width="2.6"/>
<path d="M1048.4,620.8 H1096" stroke="#b4cbe6" stroke-width="2.6"/>
<path d="M1048.4,629.9 H1096" stroke="#b4cbe6" stroke-width="2.6"/>
<path d="M1048.4,639.0 H1096" stroke="#b4cbe6" stroke-width="2.6"/>
<path d="M1048.4,648.1 H1096" stroke="#b4cbe6" stroke-width="2.6"/>
<path d="M1048.4,657.2 H1096" stroke="#b4cbe6" stroke-width="2.6"/>
<path d="M1048.4,666.3 H1096" stroke="#b4cbe6" stroke-width="2.6"/>
<path d="M1048.4,675.4 H1096" stroke="#b4cbe6" stroke-width="2.6"/>
<path d="M1048.4,684.5 H1096" stroke="#b4cbe6" stroke-width="2.6"/>
<path d="M1048.4,693.6 H1096" stroke="#b4cbe6" stroke-width="2.6"/>
<path d="M1048.4,702.7 H1096" stroke="#b4cbe6" stroke-width="2.6"/>
<path d="M1048.4,711.8 H1096" stroke="#b4cbe6" stroke-width="2.6"/>
<path d="M1048.4,720.9 H1096" stroke="#b4cbe6" stroke-width="2.6"/>
<path d="M1048.4,730.0 H1096" stroke="#b4cbe6" stroke-width="2.6"/>
<path d="M1048.4,739.1 H1096" stroke="#b4cbe6" stroke-width="2.6"/>
<path d="M1048.4,748.2 H1096" stroke="#b4cbe6" stroke-width="2.6"/>
<path d="M1048.4,757.3 H1096" stroke="#b4cbe6" stroke-width="2.6"/>
<path d="M1048.4,766.4 H1096" stroke="#b4cbe6" stroke-width="2.6"/>
<path d="M1126.5,570.6 V740" stroke="#5aa2cc" stroke-width="1.6"/>
<path d="M1178.6,525.8 V648.8 M1189.8,550.5 V646 M1251.6,550.5 V667 M1189.7,550.5 H1252" stroke="#5aa2cc" stroke-width="1.5"/>
<path d="M1198,561.7 H1247" stroke="#5aa2cc" stroke-width="1.5"/>
<path d="M1198,570.8 H1247" stroke="#5aa2cc" stroke-width="1.5"/>
<path d="M1197,579.7 H1204" stroke="#5aa2cc" stroke-width="1.5"/>
<path d="M1216,579.7 H1247" stroke="#5aa2cc" stroke-width="1.5"/>
<path d="M1216,587.5 H1247" stroke="#5aa2cc" stroke-width="1.5"/>
<path d="M1212,597.2 H1220" stroke="#5aa2cc" stroke-width="1.5"/>
<path d="M1197,605.2 H1224" stroke="#5aa2cc" stroke-width="1.5"/>
<path d="M1212,614.9 H1220" stroke="#5aa2cc" stroke-width="1.5"/>
<path d="M1196,623.5 H1221" stroke="#5aa2cc" stroke-width="1.5"/>
<path d="M1196,631.8 H1221" stroke="#5aa2cc" stroke-width="1.5"/>
<path d="M1292,568 V643.5 M1255.5,643.5 H1299.7" stroke="#5aa2cc" stroke-width="1.5"/>
<path d="M1256,640 V630 Q1262,628 1266,634" stroke="#5296c4" stroke-width="1.2" opacity="0.7"/>
<path d="M1262,683.5 L1264,682.6 L1266,682.0 L1268,681.7 L1270,681.7 L1272,681.9 L1274,682.3 L1276,682.9 L1278,683.5 L1280,684.0 L1282,684.3 L1284,684.5 L1286,684.4 L1288,684.0 L1290,683.2 L1292,682.3 L1294,681.1 L1296,679.8 L1298,678.4 L1300,677.0 L1302,675.8 L1304,674.8 L1306,674.1 L1308,673.6 L1310,673.5 L1312,673.6 L1314,673.9 L1316,674.4 L1318,675.0 L1320,675.5 L1322,676.0 L1324,676.3 L1326,676.3" stroke="#86c4e8" stroke-width="2.2"/>
<path d="M1262,689.1 L1264,688.2 L1266,687.6 L1268,687.3 L1270,687.3 L1272,687.5 L1274,687.9 L1276,688.5 L1278,689.1 L1280,689.6 L1282,689.9 L1284,690.1 L1286,690.0 L1288,689.6 L1290,688.8 L1292,687.9 L1294,686.7 L1296,685.4 L1298,684.0 L1300,682.6 L1302,681.4 L1304,680.4 L1306,679.7 L1308,679.2 L1310,679.1 L1312,679.2 L1314,679.5 L1316,680.0 L1318,680.6 L1320,681.1 L1322,681.6 L1324,681.9 L1326,681.9" stroke="#86c4e8" stroke-width="2.2"/>
<path d="M1262,694.7 L1264,693.8 L1266,693.2 L1268,692.9 L1270,692.9 L1272,693.1 L1274,693.5 L1276,694.1 L1278,694.7 L1280,695.2 L1282,695.5 L1284,695.7 L1286,695.6 L1288,695.2 L1290,694.4 L1292,693.5 L1294,692.3 L1296,691.0 L1298,689.6 L1300,688.2 L1302,687.0 L1304,686.0 L1306,685.3 L1308,684.8 L1310,684.7 L1312,684.8 L1314,685.1 L1316,685.6 L1318,686.2 L1320,686.7 L1322,687.2 L1324,687.5 L1326,687.5" stroke="#86c4e8" stroke-width="2.2"/>
<path d="M1262,700.3 L1264,699.4 L1266,698.8 L1268,698.5 L1270,698.5 L1272,698.7 L1274,699.1 L1276,699.7 L1278,700.3 L1280,700.8 L1282,701.1 L1284,701.3 L1286,701.2 L1288,700.8 L1290,700.0 L1292,699.1 L1294,697.9 L1296,696.6 L1298,695.2 L1300,693.8 L1302,692.6 L1304,691.6 L1306,690.9 L1308,690.4 L1310,690.3 L1312,690.4 L1314,690.7 L1316,691.2 L1318,691.8 L1320,692.3 L1322,692.8 L1324,693.1 L1326,693.1" stroke="#86c4e8" stroke-width="2.2"/>
<path d="M1262,705.9 L1264,705.0 L1266,704.4 L1268,704.1 L1270,704.1 L1272,704.3 L1274,704.7 L1276,705.3 L1278,705.9 L1280,706.4 L1282,706.7 L1284,706.9 L1286,706.8 L1288,706.4 L1290,705.6 L1292,704.7 L1294,703.5 L1296,702.2 L1298,700.8 L1300,699.4 L1302,698.2 L1304,697.2 L1306,696.5 L1308,696.0 L1310,695.9 L1312,696.0 L1314,696.3 L1316,696.8 L1318,697.4 L1320,697.9 L1322,698.4 L1324,698.7 L1326,698.7" stroke="#86c4e8" stroke-width="2.2"/>
<path d="M1262,711.5 L1264,710.6 L1266,710.0 L1268,709.7 L1270,709.7 L1272,709.9 L1274,710.3 L1276,710.9 L1278,711.5 L1280,712.0 L1282,712.3 L1284,712.5 L1286,712.4 L1288,712.0 L1290,711.2 L1292,710.3 L1294,709.1 L1296,707.8 L1298,706.4 L1300,705.0 L1302,703.8 L1304,702.8 L1306,702.1 L1308,701.6 L1310,701.5 L1312,701.6 L1314,701.9 L1316,702.4 L1318,703.0 L1320,703.5 L1322,704.0 L1324,704.3 L1326,704.3" stroke="#86c4e8" stroke-width="2.2"/>
<path d="M1262,717.1 L1264,716.2 L1266,715.6 L1268,715.3 L1270,715.3 L1272,715.5 L1274,715.9 L1276,716.5 L1278,717.1 L1280,717.6 L1282,717.9 L1284,718.1 L1286,718.0 L1288,717.6 L1290,716.8 L1292,715.9 L1294,714.7 L1296,713.4 L1298,712.0 L1300,710.6 L1302,709.4 L1304,708.4 L1306,707.7 L1308,707.2 L1310,707.1 L1312,707.2 L1314,707.5 L1316,708.0 L1318,708.6 L1320,709.1 L1322,709.6 L1324,709.9 L1326,709.9" stroke="#86c4e8" stroke-width="2.2"/>
<path d="M1262,722.7 L1264,721.8 L1266,721.2 L1268,720.9 L1270,720.9 L1272,721.1 L1274,721.5 L1276,722.1 L1278,722.7 L1280,723.2 L1282,723.5 L1284,723.7 L1286,723.6 L1288,723.2 L1290,722.4 L1292,721.5 L1294,720.3 L1296,719.0 L1298,717.6 L1300,716.2 L1302,715.0 L1304,714.0 L1306,713.3 L1308,712.8 L1310,712.7 L1312,712.8 L1314,713.1 L1316,713.6 L1318,714.2 L1320,714.7 L1322,715.2 L1324,715.5 L1326,715.5" stroke="#86c4e8" stroke-width="2.2"/>
<path d="M1262,728.3 L1264,727.4 L1266,726.8 L1268,726.5 L1270,726.5 L1272,726.7 L1274,727.1 L1276,727.7 L1278,728.3 L1280,728.8 L1282,729.1 L1284,729.3 L1286,729.2 L1288,728.8 L1290,728.0 L1292,727.1 L1294,725.9 L1296,724.6 L1298,723.2 L1300,721.8 L1302,720.6 L1304,719.6 L1306,718.9 L1308,718.4 L1310,718.3 L1312,718.4 L1314,718.7 L1316,719.2 L1318,719.8 L1320,720.3 L1322,720.8 L1324,721.1 L1326,721.1" stroke="#86c4e8" stroke-width="2.2"/>
<path d="M1262,733.9 L1264,733.0 L1266,732.4 L1268,732.1 L1270,732.1 L1272,732.3 L1274,732.7 L1276,733.3 L1278,733.9 L1280,734.4 L1282,734.7 L1284,734.9 L1286,734.8 L1288,734.4 L1290,733.6 L1292,732.7 L1294,731.5 L1296,730.2 L1298,728.8 L1300,727.4 L1302,726.2 L1304,725.2 L1306,724.5 L1308,724.0 L1310,723.9 L1312,724.0 L1314,724.3 L1316,724.8 L1318,725.4 L1320,725.9 L1322,726.4 L1324,726.7 L1326,726.7" stroke="#86c4e8" stroke-width="2.2"/>
<path d="M1262,739.5 L1264,738.6 L1266,738.0 L1268,737.7 L1270,737.7 L1272,737.9 L1274,738.3 L1276,738.9 L1278,739.5 L1280,740.0 L1282,740.3 L1284,740.5 L1286,740.4 L1288,740.0 L1290,739.2 L1292,738.3 L1294,737.1 L1296,735.8 L1298,734.4 L1300,733.0 L1302,731.8 L1304,730.8 L1306,730.1 L1308,729.6 L1310,729.5 L1312,729.6 L1314,729.9 L1316,730.4 L1318,731.0 L1320,731.5 L1322,732.0 L1324,732.3 L1326,732.3" stroke="#86c4e8" stroke-width="2.2"/>
<path d="M1186,672.0 Q1196,663.0 1206,666.0 Q1212,667.0 1216,663.0" stroke="#86c4e8" stroke-width="2.3"/>
<path d="M1186,679.5 Q1196,670.5 1206,673.5 Q1212,674.5 1216,670.5" stroke="#86c4e8" stroke-width="2.3"/>
<path d="M1186,687.0 Q1196,678.0 1206,681.0 Q1212,682.0 1216,678.0" stroke="#86c4e8" stroke-width="2.3"/>
<path d="M1186,694.5 Q1196,685.5 1206,688.5 Q1212,689.5 1216,685.5" stroke="#86c4e8" stroke-width="2.3"/>
<path d="M1186,702.0 Q1196,693.0 1206,696.0 Q1212,697.0 1216,693.0" stroke="#86c4e8" stroke-width="2.3"/>
<path d="M1186,709.5 Q1196,700.5 1206,703.5 Q1212,704.5 1216,700.5" stroke="#86c4e8" stroke-width="2.3"/>
<path d="M1224,746.0 Q1250,728.0 1275,736.0 Q1300,744.0 1320,734.0 Q1335,728.0 1344,732.0" stroke="#5aa2cc" stroke-width="1.6"/>
<path d="M1224,755.0 Q1250,737.0 1275,745.0 Q1300,753.0 1320,743.0 Q1335,737.0 1344,741.0" stroke="#5aa2cc" stroke-width="1.6"/>
<path d="M1224,764.0 Q1250,746.0 1275,754.0 Q1300,762.0 1320,752.0 Q1335,746.0 1344,750.0" stroke="#5aa2cc" stroke-width="1.6"/>
<path d="M1224,773.0 Q1250,755.0 1275,763.0 Q1300,771.0 1320,761.0 Q1335,755.0 1344,759.0" stroke="#5aa2cc" stroke-width="1.6"/>
<path d="M1140,580 L1160,570 M1145,588 L1156,578 M1142,620 Q1150,640 1168,650 Q1172,660 1160,668" stroke="#5296c4" stroke-width="1.3" opacity="0.8"/>
<path d="M1142,640 Q1135,660 1150,680 Q1165,700 1160,720 Q1150,740 1170,750" stroke="#5296c4" stroke-width="1.3" opacity="0.7"/>
<path d="M1180,660 Q1175,690 1190,710 Q1205,725 1215,720 M1230,660 Q1245,670 1240,690" stroke="#5296c4" stroke-width="1.3" opacity="0.7"/>
<path d="M1160,740 Q1170,730 1180,745 Q1175,760 1160,755 M1110,760 Q1120,750 1125,765" stroke="#5296c4" stroke-width="1.3" opacity="0.6"/>
<path d="M1330,575 L1340,585 L1325,595 L1342,605 L1326,615 L1340,628 L1328,640 L1344,650 M1300,660 L1344,640" stroke="#5296c4" stroke-width="1.3" opacity="0.7"/>
<path d="M1008,672 V768" stroke="#5aa2cc" stroke-width="1.5"/>
<ellipse cx="1193" cy="326.6" rx="11" ry="11" stroke="#a6afd3" stroke-width="1.5"/>
<ellipse cx="1266" cy="324" rx="10" ry="10" stroke="#a6afd3" stroke-width="1.5"/>
<ellipse cx="1292.7" cy="324" rx="11" ry="11" stroke="#5aa2cc" stroke-width="1.6"/>
<path d="M1176,343 H1195 M1276,339 L1294,342" stroke="#8d99c6" stroke-width="1.3" opacity="0.7"/>
<ellipse cx="1189" cy="377.4" rx="19.5" ry="19.5" stroke="#5aa2cc" stroke-width="1.5"/>
<ellipse cx="1189" cy="377.4" rx="14" ry="12" stroke="#5296c4" stroke-width="1.2" opacity="0.7"/>
<path d="M1234,410 Q1228,380 1246,366 Q1262,354 1280,358 Q1292,362 1298,376" stroke="#5aa2cc" stroke-width="1.6"/>
<path d="M1242,410 Q1238,385 1252,372 Q1266,362 1284,368" stroke="#5aa2cc" stroke-width="1.4"/>
<path d="M1252,405 Q1250,392 1258,384" stroke="#5296c4" stroke-width="1.2" opacity="0.7"/>
<path d="M1270,357 Q1290,360 1301,376 M1274,367 Q1288,371 1293,381" stroke="#a6afd3" stroke-width="1.4"/>
<path d="M1234,410 Q1240,418 1258,419" stroke="#5aa2cc" stroke-width="1.4"/>
<ellipse cx="1308.6" cy="420" rx="44" ry="44" stroke="#9cc0e2" stroke-width="1.7"/>
<path d="M1300,460 Q1315,455 1330,450" stroke="#5aa2cc" stroke-width="1.4"/>
<path d="M1171,416.4 Q1195,420 1205,440 Q1214,460 1208.7,484 Q1198,508 1174.8,518" stroke="#a6afd3" stroke-width="1.5"/>
<path d="M1171,500 Q1198,492 1208,470" stroke="#5aa2cc" stroke-width="1.3"/>
<path d="M1330,480 L1344,472 M1320,520 L1340,505" stroke="#5296c4" stroke-width="1.3" opacity="0.6"/>
<path d="M1203,540.5 H1226 M1237,538 L1246,536" stroke="#5aa2cc" stroke-width="1.6" opacity="0.8"/>
<path d="M1210,335 Q1220,345 1232,342 M1240,330 Q1236,345 1250,352 M1215,350 Q1225,356 1236,350" stroke="#5296c4" stroke-width="1.2" opacity="0.6"/>
<path d="M1293,352 Q1300,346 1312,352 Q1322,350 1330,356 Q1326,362 1316,358 Q1306,360 1298,356 Z" stroke="#8d99c6" stroke-width="1.2" opacity="0.7"/>
<path d="M1306,332 L1320,318 L1334,314 M1310,336 L1326,326" stroke="#5296c4" stroke-width="1.2" opacity="0.6"/>
</svg>
<div id="tbl"></div>
<div class="hl" style="top:274px"></div>
<div class="hl" style="top:351px"></div>
<div class="hl" style="top:423px"></div>
<div class="hl" style="top:495px"></div>
<div class="vl" style="left:404px"></div>
<div class="vl" style="left:816px"></div>

<div class="t" style="left:252.7px;top:222.1px;font-size:32.6px;transform:scaleX(0.875)">Year</div>
<div class="t" style="left:495.5px;top:222.9px;font-size:31px;transform:scaleX(0.918)">Birth Rate per 1,000</div>
<div class="t" style="left:884.5px;top:224px;font-size:30px;transform:scaleX(0.919)">Population billion</div>

<div class="t a" style="top:298.1px">2023</div>
<div class="m" style="top:315px"></div><div class="t b" style="top:294.6px">80%</div>
<div class="t c" style="top:294.6px">+0.92180&euro;1</div>

<div class="t a" style="top:369.3px">2023</div>
<div class="m" style="top:386px"></div><div class="t b" style="top:365.1px">13%</div>
<div class="t c" style="top:365.1px">+1.6253361</div>

<div class="t a" style="top:441.8px">2024</div>
<div class="m" style="top:458px"></div><div class="t b" style="top:438px">39%</div>
<div class="t c" style="top:436.8px">+3.0219201</div>

<div class="t a" style="top:513px">2024</div>
<div class="m" style="top:529.7px"></div><div class="t b" style="top:508.5px">02%</div>
<div class="t c" style="top:509.2px;left:926.3px;transform:scaleX(0.925)">6.20143&euro;1</div>
<svg style="position:absolute;left:0;top:0" width="1344" height="768" viewBox="0 0 1344 768"><g fill="#101a52">
<polygon points="904.2,514.4 909.7,519.1 907.9,522.5 903.2,523.3 899,519.4"/>
<rect x="893" y="526.9" width="7.6" height="7.1"/>
<polygon points="906,526.9 913.5,526.3 914.3,523.5 914.6,533.7 906,533.7"/>
<polygon points="899.5,538.1 909.4,538.1 908.9,541.3 904.2,544.9 900.6,541.8"/>
</g></svg>
</body></html>
